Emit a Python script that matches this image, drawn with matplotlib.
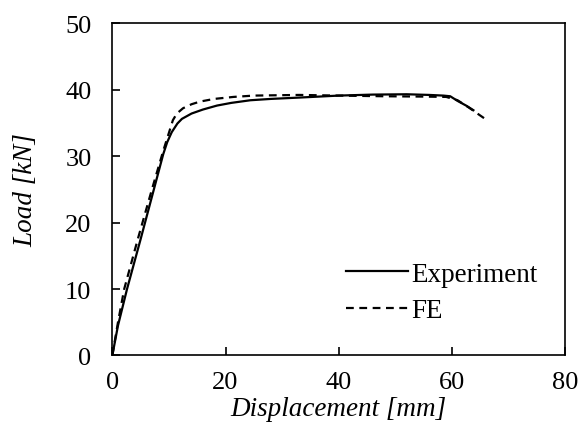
import numpy as np
import matplotlib.pyplot as plt

# load-displacement curves
exp_disp = [0, 1, 2.6, 5, 7.5, 9.0, 9.7, 10.5, 11.5, 12.3, 14, 16, 18.5, 21, 24.4, 28, 33, 40, 46, 52, 56, 58.5, 59.7, 61, 62.5, 63.8]
exp_load = [0, 4.5, 10, 17.5, 25.5, 30.3, 32.1, 33.6, 34.9, 35.6, 36.4, 37.0, 37.6, 38.0, 38.4, 38.6, 38.8, 39.1, 39.25, 39.3, 39.2, 39.1, 39.0, 38.3, 37.6, 36.9]

fe_disp = [0, 1, 2.1, 4.5, 7, 9.0, 10.0, 10.7, 11.4, 12.5, 14, 15.5, 18, 21.4, 25, 33, 40, 48, 55, 59, 61, 63, 64.5, 66.2]
fe_load = [0, 5, 10, 17.5, 25, 30.8, 33.5, 35.4, 36.4, 37.2, 37.8, 38.2, 38.6, 38.9, 39.1, 39.2, 39.1, 39.0, 38.95, 38.9, 38.4, 37.3, 36.4, 35.4]

plt.rcParams['font.family'] = ['Liberation Serif', 'DejaVu Serif']

fig, ax = plt.subplots(figsize=(5.79, 4.39), dpi=100)
fig.subplots_adjust(left=0.194, right=0.976, top=0.945, bottom=0.188)

ax.plot(exp_disp, exp_load, color='black', lw=1.6, label='Experiment')
ax.plot(fe_disp, fe_load, color='black', lw=1.6, ls=(0, (3.5, 2.5)), label='FE')

ax.set_xlim(0, 80)
ax.set_ylim(0, 50)
ax.set_xticks(np.arange(0, 81, 20))
ax.set_yticks(np.arange(0, 51, 10))
ax.tick_params(axis='y', direction='in', labelsize=19, length=6, width=1.2, pad=15)
ax.tick_params(axis='x', direction='in', labelsize=19, length=6, width=1.2, pad=11)
for s in ax.spines.values():
    s.set_linewidth(1.2)

ax.set_xlabel('Displacement [mm]', fontsize=19.5, style='italic', labelpad=2)
ax.set_ylabel('Load [kN]', fontsize=19.5, style='italic', labelpad=19)

ax.legend(loc='lower right', bbox_to_anchor=(0.962, 0.065), frameon=False, fontsize=19.5,
          handlelength=2.3, handletextpad=0.1, labelspacing=0.42, borderaxespad=0)

plt.savefig('out.png', dpi=100)
